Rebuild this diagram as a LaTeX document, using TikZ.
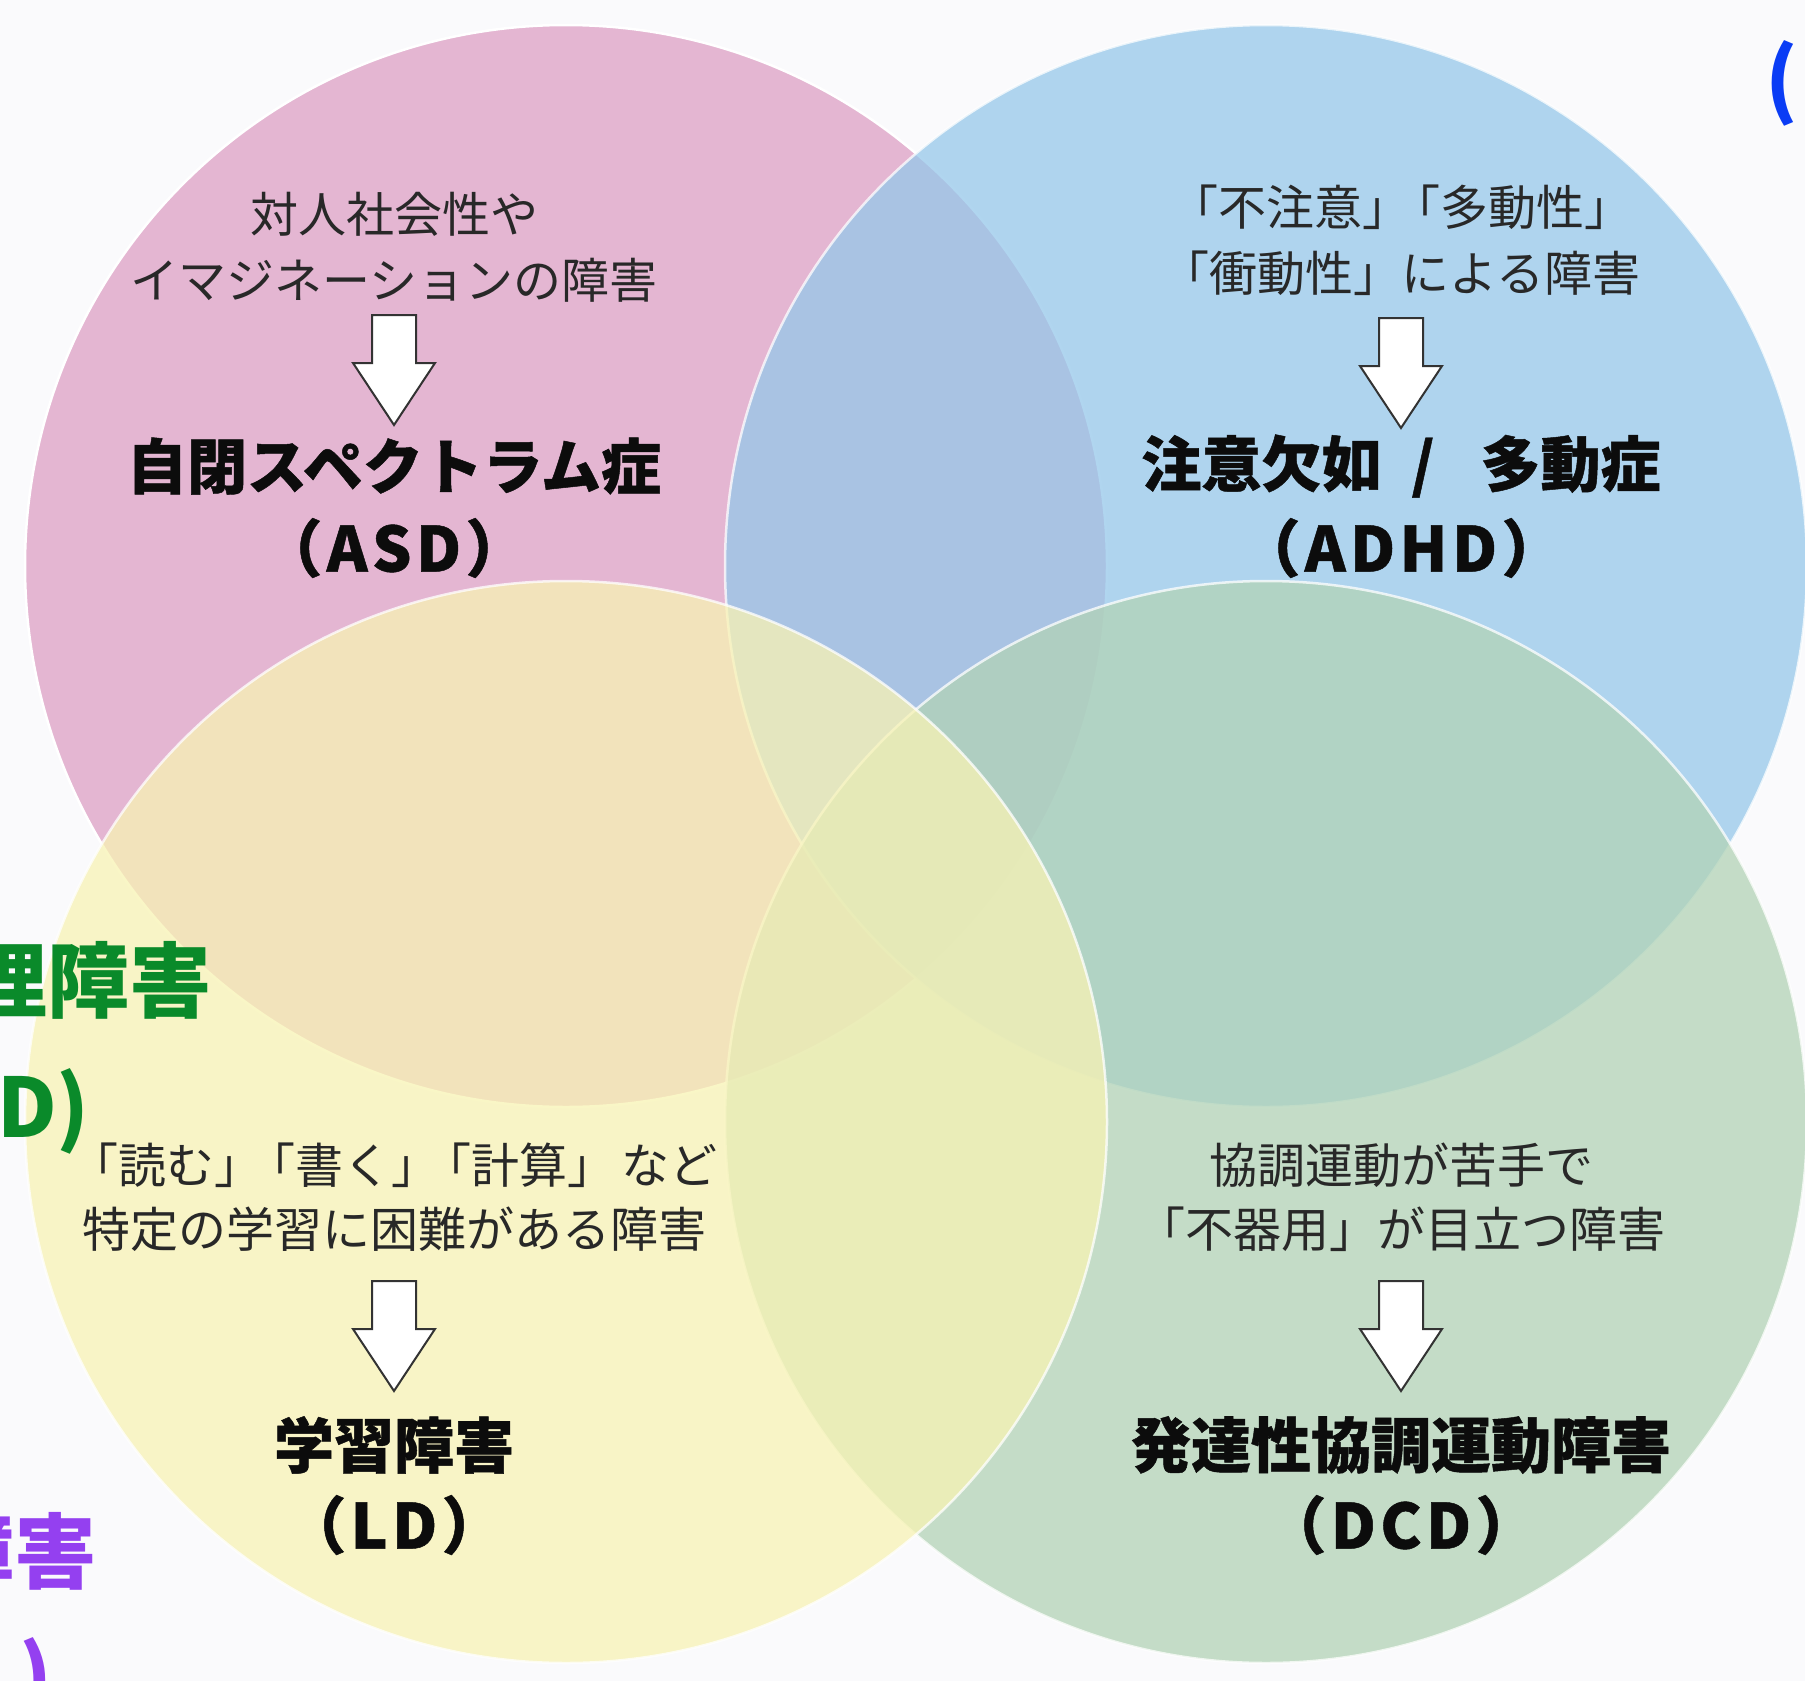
\documentclass[tikz,border=0pt]{standalone}
\usepackage{fontspec}
\setmainfont{Noto Sans CJK JP}
\definecolor{bgc}{RGB}{250,250,252}
\definecolor{pinkc}{RGB}{228,182,210}
\definecolor{bluec}{RGB}{150,200,234}
\definecolor{greenc}{RGB}{178,211,182}
\definecolor{yellowc}{RGB}{248,243,180}
\definecolor{descc}{RGB}{40,40,40}
\definecolor{titlec}{RGB}{12,12,12}
\definecolor{sidegreen}{RGB}{10,138,42}
\definecolor{sidepurple}{RGB}{148,64,240}
\definecolor{sideblue}{RGB}{10,60,245}
\begin{document}
\begin{tikzpicture}[x=1pt,y=-1pt,
  descr/.style={inner sep=0pt, text=descc, font=\fontsize{48}{58}\selectfont},
  ttl/.style={inner sep=0pt, text=titlec, font=\fontsize{60}{72}\selectfont\bfseries\addfontfeature{FakeBold=0.8}},
  abbr/.style={inner sep=0pt, text=titlec, font=\fontsize{62}{72}\selectfont\bfseries\addfontfeature{FakeBold=0.8,LetterSpace=7}},
  venn/.style={draw=white, line width=2.5pt},
  downarrow/.pic={\filldraw[fill=white, draw=black!80, line width=2pt, line join=miter]
     (-22,0) -- (22,0) -- (22,48) -- (41,48) -- (0,110) -- (-41,48) -- (-22,48) -- cycle;},
  sidetext/.style={inner sep=0pt, font=\fontsize{82}{90}\selectfont\bfseries}
]
\useasboundingbox (0,0) rectangle (1805,1681);
\fill[bgc] (0,0) rectangle (1805,1681);
% circles
\filldraw[venn, fill=pinkc] (566,566) circle[radius=541pt];
\filldraw[venn, fill=bluec, opacity=0.75] (1266,566) circle[radius=541pt];
\filldraw[venn, fill=greenc, opacity=0.75] (1266,1122) circle[radius=541pt];
\filldraw[venn, fill=yellowc, opacity=0.75] (566,1122) circle[radius=541pt];
% ASD
\node[descr] (asd1) at (394,214) {対人社会性や};
\node[descr] (asd2) at (394,280) {イマジネーションの障害};
\pic (asdArrow) at (394,315) {downarrow};
\node[ttl] (asdT) at (394,466) {自閉スペクトラム症};
\node[abbr] (asdA) at (394,548) {（ASD）};
% ADHD
\node[descr] (adhd1) at (1401,207) {「不注意」\kern-18pt「多動性」};
\node[descr] (adhd2) at (1401,273) {「衝動性」による障害};
\pic (adhdArrow) at (1401,318) {downarrow};
\node[ttl] (adhdT) at (1401,466) {注意欠如\hspace{30pt}/\hspace{46pt}多動症};
\node[abbr] (adhdA) at (1401,548) {（ADHD）};
% LD
\node[descr] (ld1) at (394,1165) {「読む」\kern-15pt「書く」\kern-15pt「計算」\kern6pt など};
\node[descr] (ld2) at (394,1229) {特定の学習に困難がある障害};
\pic (ldArrow) at (394,1281) {downarrow};
\node[ttl] (ldT) at (394,1445) {学習障害};
\node[abbr] (ldA) at (394,1525) {（LD）};
% DCD
\node[descr] (dcd1) at (1401,1165) {協調運動が苦手で};
\node[descr] (dcd2) at (1401,1229) {「不器用」が目立つ障害};
\pic (dcdArrow) at (1401,1281) {downarrow};
\node[ttl] (dcdT) at (1401,1445) {発達性協調運動障害};
\node[abbr] (dcdA) at (1401,1525) {（DCD）};
% cut-off side texts
\node[sidetext, text=sidegreen, anchor=east] (g1) at (212,980) {理障害};
\node[sidetext, text=sidegreen, anchor=base west] (g2) at (-3,1137) {D)};
\node[sidetext, text=sidepurple, anchor=east] (p1) at (97,1551) {障害};
\node[sidetext, text=sidepurple, anchor=base west] (p2) at (19,1706) {)};
\node[sidetext, text=sideblue, anchor=base west] (b1) at (1765,109) {(};
\end{tikzpicture}
\end{document}
